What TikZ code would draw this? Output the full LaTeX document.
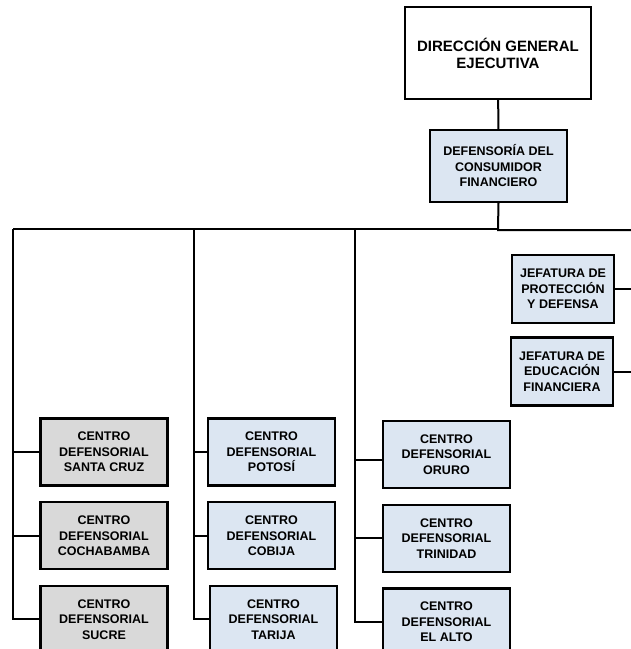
\documentclass[tikz,border=0pt]{standalone}
\usepackage{fontspec}
\setmainfont{Liberation Sans}
\usepackage{xcolor}
\usetikzlibrary{positioning}
\definecolor{unitblue}{HTML}{DCE6F2}
\definecolor{unitgray}{HTML}{D9D9D9}

\begin{document}
\begin{tikzpicture}[
  x=1pt, y=-1pt,
  node distance=14.5pt and 20pt,
  unitbox/.style={draw, line width=2.2pt, fill=unitblue, minimum width=127pt,
                  minimum height=67pt, inner sep=2pt, align=center,
                  font=\bfseries\fontsize{12.5}{15.5}\selectfont},
  graybox/.style={unitbox, fill=unitgray},
  headbox/.style={unitbox, fill=white, minimum width=186pt, minimum height=92pt,
                  font=\bfseries\fontsize{15}{17}\selectfont},
  jefbox/.style={unitbox, minimum width=102pt, minimum height=68pt},
  link/.style={line width=2pt}
]
  \useasboundingbox (0,0) rectangle (631,649);
  \clip (0,0) rectangle (631,649);

  % head of the chart
  \node[headbox] (dge) at (498,53) {DIRECCIÓN GENERAL\\EJECUTIVA};
  \node[unitbox, minimum width=137pt, minimum height=72pt] (dcf) at (498.5,166)
    {DEFENSORÍA DEL\\CONSUMIDOR\\FINANCIERO};

  % jefaturas on the right
  \node[jefbox] (jpd) at (563,289) {JEFATURA DE\\PROTECCIÓN\\Y DEFENSA};
  \node[jefbox] (jef) at (562,371.5) {JEFATURA DE\\EDUCACIÓN\\FINANCIERA};

  % centros defensoriales, first column
  \node[graybox] (scz) at (104,452) {CENTRO\\DEFENSORIAL\\SANTA CRUZ};
  \node[graybox, below=of scz] (cbba) {CENTRO\\DEFENSORIAL\\COCHABAMBA};
  \node[graybox, below=of cbba] (scr) {CENTRO\\DEFENSORIAL\\SUCRE};

  % second column
  \node[unitbox] (pts) at (271.5,452) {CENTRO\\DEFENSORIAL\\POTOSÍ};
  \node[unitbox, below=of pts] (cbj) {CENTRO\\DEFENSORIAL\\COBIJA};
  \node[unitbox, below=of cbj, xshift=2pt] (trj) {CENTRO\\DEFENSORIAL\\TARIJA};

  % third column
  \node[unitbox] (oru) at (446.5,454.5) {CENTRO\\DEFENSORIAL\\ORURO};
  \node[unitbox, below=of oru] (tri) {CENTRO\\DEFENSORIAL\\TRINIDAD};
  \node[unitbox, below=of tri] (elt) {CENTRO\\DEFENSORIAL\\EL ALTO};

  % bus coordinates
  \coordinate (bus) at (498,229);
  \coordinate (busend) at (631,230);
  \coordinate (col1) at (13,229);
  \coordinate (col2) at (194,229);
  \coordinate (col3) at (355,229);

  % connectors
  \draw[link] (dge) -- (dcf);
  \draw[link] (dcf.south) -- (bus) |- (busend);
  \draw[link] (col1) -- (bus);
  \draw[link] (jpd.east) -- (jpd.east -| busend);
  \draw[link] (jef.east) -- (jef.east -| busend);
  \draw[link] (col1) |- (scz.west);
  \draw[link] (col1) |- (cbba.west);
  \draw[link] (col1) |- (scr.west);
  \draw[link] (col2) |- (pts.west);
  \draw[link] (col2) |- (cbj.west);
  \draw[link] (col2) |- (trj.west);
  \draw[link] (col3) |- ([yshift=-5pt]oru.west);
  \draw[link] (col3) |- (tri.west);
  \draw[link] (col3) |- (elt.west);
\end{tikzpicture}
\end{document}
